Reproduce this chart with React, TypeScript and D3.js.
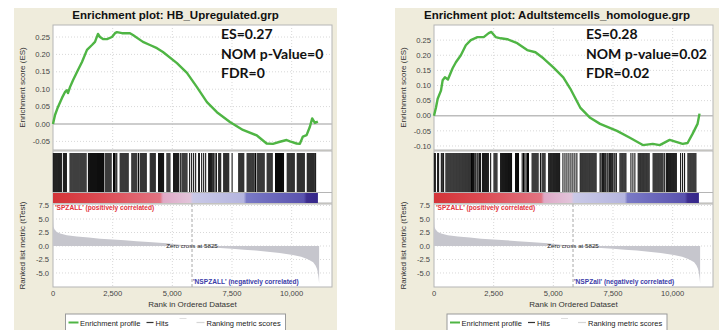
import React from 'react';
import * as d3 from 'd3';

// ---- data ----
const X_TICKS = [0, 2500, 5000, 7500, 10000];
const METRIC_TICKS = [7.5, 5.0, 2.5, 0.0, -2.5, -5.0];
const LEFT_ES_TICKS = [0.25, 0.2, 0.15, 0.1, 0.05, 0.0, -0.05];
const RIGHT_ES_TICKS = [0.25, 0.2, 0.15, 0.1, 0.05, 0.0, -0.05, -0.1];
const ZERO_CROSS = 5825;

// ranked list metric (tTest) by rank
const RANKED_METRIC: [number, number][] = [
  [0, 5.2], [20, 3.6], [60, 3.1], [160, 2.6], [300, 2.3], [580, 2.0], [1000, 1.75],
  [1500, 1.55], [1970, 1.35], [2500, 1.2], [3000, 1.05], [3500, 0.9], [4000, 0.72],
  [4770, 0.5], [5300, 0.25], [5825, 0], [6500, -0.22], [7000, -0.38], [7500, -0.52],
  [8000, -0.68], [8500, -0.85], [9000, -1.05], [9500, -1.3], [10050, -1.67], [10400, -2.0],
  [10700, -2.5], [10900, -3.0], [11000, -3.6], [11060, -4.2], [11100, -5.0], [11130, -6.0],
  [11150, -6.9],
];

const LEFT_ES: [number, number][] = [
  [0, 0], [84, 0.026], [209, 0.049], [377, 0.075], [503, 0.092], [586, 0.097], [628, 0.089],
  [712, 0.106], [838, 0.126], [1047, 0.155], [1215, 0.178], [1424, 0.213], [1633, 0.227],
  [1759, 0.236], [1885, 0.259], [1968, 0.25], [2094, 0.244], [2262, 0.244], [2471, 0.25],
  [2597, 0.261], [2680, 0.264], [2890, 0.261], [3225, 0.261], [3350, 0.256], [3769, 0.236],
  [4062, 0.227], [4356, 0.218], [4607, 0.207], [5193, 0.175], [5612, 0.147], [6031, 0.106],
  [6450, 0.063], [6868, 0.034], [7413, 0.006], [7957, -0.017], [8543, -0.033], [8950, -0.056],
  [9214, -0.057], [9507, -0.051], [9788, -0.046], [9926, -0.05], [10206, -0.056],
  [10344, -0.057], [10470, -0.036], [10625, -0.032], [10763, -0.008], [10860, 0.016],
  [10973, 0.003], [11098, 0.007],
];

const RIGHT_ES: [number, number][] = [
  [0, 0], [83, 0.027], [154, 0.056], [292, 0.083], [362, 0.117], [458, 0.127], [583, 0.12],
  [779, 0.157], [917, 0.177], [1125, 0.2], [1333, 0.233], [1542, 0.25], [1821, 0.26],
  [2083, 0.26], [2292, 0.273], [2404, 0.277], [2583, 0.26], [2792, 0.256], [3071, 0.253],
  [3488, 0.24], [3904, 0.217], [4250, 0.21], [4583, 0.19], [5000, 0.16], [5417, 0.127],
  [5708, 0.09], [6125, 0.027], [6542, -0.007], [6958, -0.027], [7667, -0.05], [8208, -0.073],
  [8750, -0.097], [9167, -0.093], [9458, -0.097], [9875, -0.08], [10417, -0.093],
  [10625, -0.09], [10833, -0.06], [11042, -0.027], [11125, 0.007],
];

const LEFT_HITS = [
  14, 56, 98, 140, 182, 224, 266, 308, 350, 434, 476, 518, 560,
  714, 756, 798, 840, 882, 924, 966, 1008, 1050, 1092, 1134, 1176, 1218, 1260, 1302, 1344, 1386,
  1484, 1526, 1568, 1610, 1652, 1694, 1736, 1778, 1820, 1862, 1904, 1946, 1988, 2030, 2072, 2114,
  2184, 2226, 2268, 2310, 2352, 2394, 2436, 2534, 2576, 2632, 2674,
  2814, 2856, 2898, 2940, 2982, 3024, 3066, 3108, 3150, 3304, 3346, 3388, 3430, 3472, 3514, 3584,
  3654, 3696, 3738, 3780, 3822, 3864, 3906, 4074, 4116, 4158, 4200, 4242, 4284,
  4424, 4466, 4508, 4550, 4592, 4634, 4774, 4816, 4858, 4900, 5054, 5096, 5138, 5180, 5222, 5264,
  5334, 5404, 5446, 5488, 5530, 5572, 5614, 5726, 5810, 5894, 5978, 6104, 6132, 6230, 6314, 6398,
  6524, 6552, 6594, 6636, 6692, 6734, 6790, 6846, 6944, 6986, 7028,
  7154, 7196, 7238, 7280, 7322, 7364, 7504, 7784, 7826, 7868, 7910, 7952, 7994,
  8134, 8176, 8218, 8260, 8302, 8344, 8386, 8428, 8484, 8554, 8596, 8638, 8680, 8722, 8764, 8806, 8848,
  8974, 9016, 9058, 9100, 9142, 9184, 9324, 9366, 9408, 9450, 9492, 9534, 9576, 9618, 9660,
  9814, 9856, 9898, 9940, 9982, 10024, 10066, 10108, 10234, 10276, 10318, 10360, 10402, 10444,
  10486, 10528, 10654, 10696, 10738, 10780, 10822, 10864, 10906, 10948, 11004,
];

const RIGHT_HITS = [
  14, 56, 153, 194, 306, 347, 403,
  500, 542, 583, 625, 667, 708, 750, 792, 833, 875, 917, 958, 1000, 1042, 1083, 1125, 1167, 1208,
  1250, 1292, 1333, 1375, 1417, 1458, 1500, 1542, 1570,
  1611, 1653, 1708, 1750, 1806, 1847, 1903, 1945, 2028, 2070, 2111, 2153, 2195, 2236, 2278, 2375,
  2514, 2556, 2597, 2639, 2792, 2834, 2875, 2917, 2959, 3000, 3042, 3084, 3125, 3167, 3209, 3250,
  3417, 3459, 3500, 3542, 3695, 3750, 3806, 3862, 3917, 3959,
  4111, 4153, 4195, 4237, 4278, 4320, 4362, 4459, 4528, 4570, 4611, 4653,
  4806, 4848, 4889, 4931, 4973, 5014, 5056, 5098, 5139, 5181, 5223, 5264,
  5403, 5487, 5570, 5653, 5737, 5820, 5903, 5987,
  6126, 6167, 6209, 6250, 6292, 6334, 6375, 6417, 6459, 6501, 6542, 6584, 6626, 6667, 6709, 6751, 6792,
  6959, 7001, 7056, 7098, 7153, 7195, 7251, 7292, 7348, 7390, 7445, 7487, 7542, 7584, 7640,
  7792, 7834, 7876, 7917, 7959, 8001, 8042, 8251, 8334, 8417,
  8556, 8598, 8640, 8681, 8723, 8765, 8806, 8848, 8890, 8931, 8973, 9015,
  9181, 9223, 9265, 9306, 9348, 9390, 9431, 9473, 9515, 9556, 9598, 9667,
  9737, 9779, 9820, 9862, 9904, 9945, 9987, 10029, 10070, 10112, 10154, 10334, 10417, 10501,
  10640, 10682, 10724, 10765, 10807, 10849, 10890, 10932, 10974,
];

// colour band under the hits: rank -> colour
const BAND_STOPS: [number, string][] = [
  [0, '#d43438'], [1970, '#dc4a52'], [4490, '#e27482'], [4610, '#dfa9c6'], [5750, '#e2c4da'],
  [5870, '#c9c9e7'], [7990, '#b5b5df'], [8110, '#7a7ac6'], [10510, '#5a52ae'],
  [10630, '#3d2d8e'], [11100, '#35278a'],
];

const LEGEND_ITEMS = ['Enrichment profile', 'Hits', 'Ranking metric scores'];

const FONT = 'Liberation Sans, Arial, sans-serif';
const GREEN = '#4fb544';
const X_MAX = 11690;
const BAND_END = 11100;

interface PanelProps {
  id: string;
  left: number;
  width: number;
  title: string;
  stats: string[];
  statsX: number;
  es: [number, number][];
  esDomain: [number, number];
  esTicks: number[];
  hits: number[];
  negLabel: string;
}

const fmt = d3.format(',');

const Panel: React.FC<PanelProps> = ({
  id, left, width, title, stats, statsX, es, esDomain, esTicks, hits, negLabel,
}) => {
  const plotLeft = left + 39;
  const plotW = 279;
  const esTop = 25, esBottom = 150;
  const hitsTop = 151, bandTop = 193, bandBottom = 203;
  const rankTop = 204, rankBottom = 287;

  const x = d3.scaleLinear().domain([0, X_MAX]).range([plotLeft, plotLeft + plotW]);
  const yEs = d3.scaleLinear().domain(esDomain).range([esBottom, esTop]);
  const yR = d3.scaleLinear().domain([-7.6, 7.78]).range([rankBottom, rankTop]);

  const esLine = d3.line<[number, number]>().x(d => x(d[0])).y(d => yEs(d[1]));
  const metricArea = d3.area<[number, number]>()
    .x(d => x(d[0])).y0(yR(0)).y1(d => yR(d[1]));

  const cx = left + width / 2;
  const gridStroke = '#d8d8d8';

  return (
    <g fontFamily={FONT}>
      <defs>
        <linearGradient id={`band-${id}`} gradientUnits="userSpaceOnUse"
          x1={x(0)} x2={x(BAND_END)} y1={0} y2={0}>
          {BAND_STOPS.map(([r, c], i) => (
            <stop key={i} offset={r / BAND_END} stopColor={c} />
          ))}
        </linearGradient>
      </defs>
      <rect x={left} y={8} width={width} height={330} fill="#efecdc" />
      <text x={cx} y={19} textAnchor="middle" fontSize="11.5px" fontWeight="bold" fill="#111">
        {title}
      </text>

      {/* enrichment score plot */}
      <rect x={plotLeft} y={esTop} width={plotW} height={esBottom - esTop} fill="#fff" stroke="#b5b5b5" />
      {X_TICKS.slice(1).map(t => (
        <line key={`gx-${t}`} x1={x(t)} x2={x(t)} y1={esTop} y2={esBottom}
          stroke={gridStroke} strokeDasharray="1,2" />
      ))}
      {esTicks.map(t => (
        <g key={`es-${t}`}>
          <line x1={plotLeft} x2={plotLeft + plotW} y1={yEs(t)} y2={yEs(t)}
            stroke={t === 0 ? '#bdbdbd' : gridStroke}
            strokeWidth={t === 0 ? 1.6 : 1}
            strokeDasharray={t === 0 ? undefined : '1,2'} />
          <text x={plotLeft - 3} y={yEs(t)} dy="0.35em" textAnchor="end" fontSize="7.6px" fill="#444">
            {t.toFixed(2)}
          </text>
        </g>
      ))}
      <path d={esLine(es) || ''} fill="none" stroke={GREEN} strokeWidth={2.4} strokeLinejoin="round" />
      {stats.map((s, i) => (
        <text key={s} x={statsX} y={39 + i * 19.5} fontFamily="Lato, sans-serif"
          fontWeight="bold" fontSize="14px" fill="#111">
          {s}
        </text>
      ))}
      <text transform={`translate(${left + 11},${(esTop + esBottom) / 2}) rotate(-90)`}
        textAnchor="middle" fontSize="8px" fill="#333">
        Enrichment score (ES)
      </text>

      {/* hits and colour band */}
      <rect x={plotLeft} y={hitsTop} width={plotW} height={bandBottom - hitsTop} fill="#fff" stroke="#b5b5b5" />
      <line x1={plotLeft} x2={plotLeft + plotW} y1={bandTop - 0.5} y2={bandTop - 0.5} stroke="#b5b5b5" />
      {hits.map(h => (
        <line key={`h-${h}`} x1={x(h)} x2={x(h)} y1={hitsTop + 2} y2={bandTop - 1}
          stroke="#000" strokeWidth={1} />
      ))}
      <rect x={x(0)} y={bandTop} width={x(BAND_END) - x(0)} height={bandBottom - bandTop}
        fill={`url(#band-${id})`} />

      {/* ranked list metric */}
      <rect x={plotLeft} y={rankTop} width={plotW} height={rankBottom - rankTop} fill="#fff" stroke="#b5b5b5" />
      {X_TICKS.slice(1).map(t => (
        <line key={`gr-${t}`} x1={x(t)} x2={x(t)} y1={rankTop} y2={rankBottom}
          stroke={gridStroke} strokeDasharray="1,2" />
      ))}
      {METRIC_TICKS.map(t => (
        <g key={`m-${t}`}>
          <line x1={plotLeft} x2={plotLeft + plotW} y1={yR(t)} y2={yR(t)}
            stroke={gridStroke} strokeDasharray="1,2" />
          <text x={plotLeft - 4} y={yR(t)} dy="0.35em" textAnchor="end" fontSize="7.6px" fill="#444">
            {t.toFixed(1)}
          </text>
        </g>
      ))}
      <path d={metricArea(RANKED_METRIC) || ''} fill="#c6c6cd" />
      <line x1={x(ZERO_CROSS)} x2={x(ZERO_CROSS)} y1={rankTop} y2={rankBottom}
        stroke="#a8a8a8" strokeDasharray="3,2" />
      <text x={x(ZERO_CROSS)} y={yR(0) + 2} textAnchor="middle" fontSize="6.2px" fill="#222">
        Zero cross at {ZERO_CROSS}
      </text>
      <text x={plotLeft + 2} y={210} fontSize="6.6px" fontWeight="bold" fill="#e3323c">
        'SPZALL' (positively correlated)
      </text>
      <text x={x(ZERO_CROSS) + 1} y={284} fontSize="6.6px" fontWeight="bold" fill="#3b3ba8">
        {negLabel}
      </text>
      <text transform={`translate(${left + 11},${(rankTop + rankBottom) / 2}) rotate(-90)`}
        textAnchor="middle" fontSize="8px" fill="#333">
        Ranked list metric (tTest)
      </text>

      {/* x axis */}
      {X_TICKS.map(t => (
        <text key={`xt-${t}`} x={x(t)} y={296} textAnchor="middle" fontSize="7.6px" fill="#444">
          {fmt(t)}
        </text>
      ))}
      <text x={plotLeft + plotW / 2} y={307} textAnchor="middle" fontSize="8px" fill="#333">
        Rank in Ordered Dataset
      </text>

      {/* legend */}
      <g transform={`translate(${cx - 110},314)`}>
        <rect x={0} y={0} width={220} height={30} fill="#fff" stroke="#9a9a9a" />
        <line x1={3} x2={13} y1={8.5} y2={8.5} stroke={GREEN} strokeWidth={2} />
        <text x={14.5} y={11.5} fontSize="7.5px" fill="#222">{LEGEND_ITEMS[0]}</text>
        <line x1={81} x2={88} y1={8.5} y2={8.5} stroke="#333" strokeWidth={1.2} />
        <text x={90} y={11.5} fontSize="7.5px" fill="#222">{LEGEND_ITEMS[1]}</text>
        <line x1={114} x2={121} y1={4.5} y2={4.5} stroke="#dedede" strokeWidth={1} />
        <line x1={131} x2={139} y1={8.5} y2={8.5} stroke="#d6d6d6" strokeWidth={1.2} />
        <text x={141} y={11.5} fontSize="7.5px" fill="#222">{LEGEND_ITEMS[2]}</text>
      </g>
    </g>
  );
};

const App: React.FC = () => (
  <svg width={722} height={330} style={{ position: 'absolute', left: 0, top: 0, background: '#fff' }}>
    <Panel
      id="a" left={14} width={323}
      title="Enrichment plot: HB_Upregulated.grp"
      stats={['ES=0.27', 'NOM p-Value=0', 'FDR=0']} statsX={221}
      es={LEFT_ES} esDomain={[-0.0747, 0.2845]} esTicks={LEFT_ES_TICKS}
      hits={LEFT_HITS} negLabel="'NSPZALL' (negatively correlated)"
    />
    <Panel
      id="b" left={395} width={324}
      title="Enrichment plot: Adultstemcells_homologue.grp"
      stats={['ES=0.28', 'NOM p-value=0.02', 'FDR=0.02']} statsX={586}
      es={RIGHT_ES} esDomain={[-0.1133, 0.3]} esTicks={RIGHT_ES_TICKS}
      hits={RIGHT_HITS} negLabel="'NSPZall' (negatively correlated)"
    />
  </svg>
);

export default App;
